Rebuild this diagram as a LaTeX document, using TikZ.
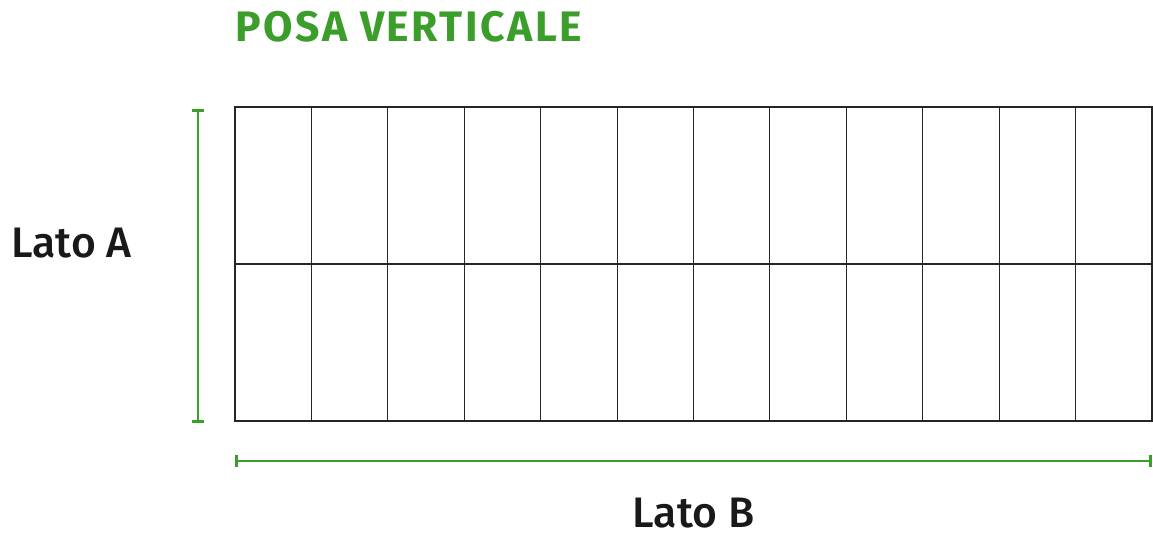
\documentclass[tikz,border=0pt]{standalone}
\usepackage{fontspec}
\setmainfont{Fira Sans}
\newfontfamily\latofont{Fira Sans Medium}
\usetikzlibrary{arrows.meta}
\definecolor{posagreen}{HTML}{3C9E2A}
\tikzset{
	tile/.style={line width=0.8pt, color=black!85},
	quota/.style={line width=2pt, color=posagreen, {Bar[width=9pt]}-{Bar[width=9pt]}},
	lato/.style={inner sep=0, text depth=0pt, font=\latofont\fontsize{32}{36}\selectfont, text=black!90},
}

\begin{document}
\begin{tikzpicture}[x=0.75pt, y=-0.75pt]
			%%%%% START %%%%%
			
			\useasboundingbox (0, 0) rectangle (1153, 535);
			
			\node[anchor=base west, inner sep=0, font=\bfseries\fontsize{32}{36}\selectfont\addfontfeatures{LetterSpace=6}, text=posagreen] (title) at (235, 42) {POSA VERTICALE};
			
			\draw[tile] (235, 107) rectangle (1152, 421);
			\draw[tile] (235, 264) -- (1152, 264);
			
			\draw[tile] (311.4, 107) -- (311.4, 421);
			\draw[tile] (387.8, 107) -- (387.8, 421);
			\draw[tile] (464.2, 107) -- (464.2, 421);
			\draw[tile] (540.7, 107) -- (540.7, 421);
			\draw[tile] (617.1, 107) -- (617.1, 421);
			\draw[tile] (693.5, 107) -- (693.5, 421);
			\draw[tile] (769.9, 107) -- (769.9, 421);
			\draw[tile] (846.3, 107) -- (846.3, 421);
			\draw[tile] (922.8, 107) -- (922.8, 421);
			\draw[tile] (999.2, 107) -- (999.2, 421);
			\draw[tile] (1075.6, 107) -- (1075.6, 421);
			
			\coordinate (aTop) at (198, 109);
			\coordinate (aBot) at (198, 423);
			\draw[quota] (aTop) -- (aBot);
			
			\coordinate (bLeft) at (235, 461);
			\coordinate (bRight) at (1152, 461);
			\draw[quota] (bLeft) -- (bRight);
			
			\node[lato, anchor=base west] (latoA) at (11, 257) {Lato A};
			\node[lato, anchor=base] (latoB) at (693.5, 527) {Lato B};
			
			%%%%% END %%%%%
\end{tikzpicture}
\end{document}
